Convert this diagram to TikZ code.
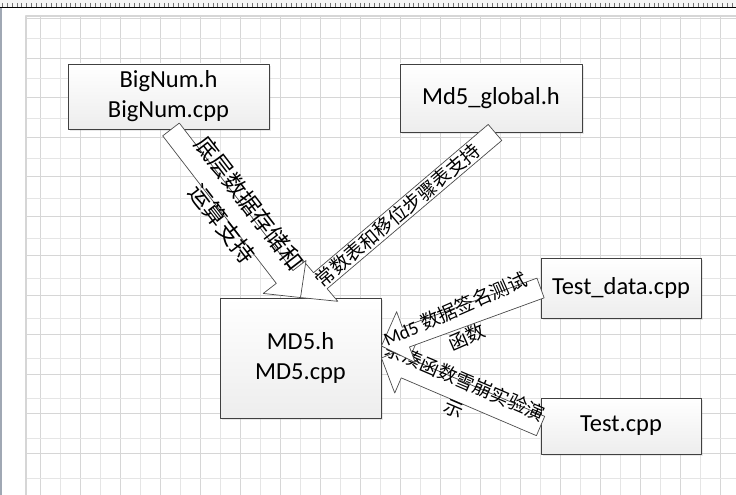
\documentclass[tikz,border=0pt]{standalone}
\usepackage{fontspec}
\setmainfont{Carlito}
\newfontfamily\cjk{Noto Sans CJK SC}
\usetikzlibrary{calc,shadows}
\definecolor{leftgray}{RGB}{160,168,180}
\def\shaftw{10.5pt} \def\headw{27pt} \def\headlen{26pt} % kich thuoc mui ten
% mui ten khoi: #1 ten, #2 duoi, #3 mui
\newcommand{\fatarrow}[3]{%
  \coordinate (#1t) at (#2);
  \coordinate (#1p) at (#3);
  \coordinate (#1h) at ($(#1p)!\headlen!(#1t)$);
  \filldraw[fatarr] ($(#1t)!\shaftw!90:(#1p)$) -- ($(#1h)!\shaftw!-90:(#1t)$)
    -- ($(#1h)!\headw!-90:(#1t)$) -- (#1p) -- ($(#1h)!\headw!90:(#1t)$)
    -- ($(#1h)!\shaftw!90:(#1t)$) -- ($(#1t)!\shaftw!-90:(#1p)$) -- cycle;}
% chu doc theo mui ten: #2 -> #3
\newcommand{\arrtext}[4][]{%
  \path let \p1=($(#3)-(#2)$), \n1={atan2(\y1,\x1)} in
    node[arrtxt, #1, rotate=\n1] at ($(#2)!0.5!(#3)$) {#4};}
\begin{document}
\begin{tikzpicture}[x=1pt, y=-1pt, line join=round,
    filebox/.style={draw=black!75, line width=0.9pt, top color=white, bottom color=black!7,
      drop shadow={opacity=0.18, shadow xshift=2pt, shadow yshift=-2pt},
      inner sep=0pt, align=center, font=\fontsize{24.5}{30}\selectfont},
    fatarr/.style={fill=white, draw=black!70, line width=0.7pt},
    arrtxt/.style={align=center, inner sep=0pt, font=\cjk\fontsize{19}{30}\selectfont},
    bigtxt/.style={font=\cjk\fontsize{23}{34}\selectfont},
    gridmaj/.style={black!16, line width=0.7pt},
    gridmin/.style={black!10, line width=0.7pt}]
  \useasboundingbox (0,0) rectangle (736,495);
  % thuoc do va khung trang
  \fill[white] (0,0) rectangle (736,495);
  \fill[black!4] (0,0) rectangle (736,7);
  \foreach \i in {0,...,149} \draw[black!55, line width=0.4pt] (2+\i*4.9,3) -- (2+\i*4.9,7);
  \draw[black, line width=1pt] (0,7.5) -- (736,7.5);
  \draw[leftgray, line width=1.5pt] (0.75,8) -- (0.75,495);
  \foreach \x in {60,100,...,720} \draw[gridmin] (\x,17) -- (\x,495);
  \foreach \x in {40,80,...,720} \draw[gridmaj] (\x,17) -- (\x,495);
  \foreach \y in {38,78,...,478} \draw[gridmin] (27,\y) -- (736,\y);
  \foreach \y in {18.5,58,...,478} \draw[gridmaj] (27,\y) -- (736,\y);
  \draw[black!16, line width=1.6pt] (26,495) -- (26,16) -- (736,16);
  % cac tep
  \node[filebox, minimum width=201pt, minimum height=65pt] (bignum) at (168.5,96.5) {BigNum.h\\BigNum.cpp};
  \node[filebox, minimum width=182pt, minimum height=68pt] (global) at (491,98) {Md5\_global.h};
  \node[filebox, minimum width=160pt, minimum height=60pt] (testdata) at (621,288) {Test\_data.cpp};
  \node[filebox, minimum width=160pt, minimum height=56pt] (test) at (621,426) {Test.cpp};
  \node[filebox, minimum width=161pt, minimum height=120pt] (md5) at (300.5,358) {MD5.h\\MD5.cpp};
  % mui ten
  \fatarrow{g}{$(global.south)+(4,0)$}{md5.north}
  \arrtext{md5.north}{$(global.south)+(4,0)$}{常数表和移位步骤表支持}
  \fatarrow{b}{$(bignum.south)+(2.5,0)$}{md5.north}
  \arrtext[bigtxt]{$(bignum.south)+(2.5,0)$}{md5.north}{底层数据存储和\\运算支持}
  \fatarrow{s}{test.west}{md5.east}
  \arrtext{$(md5.east)+(-1.5,3)$}{$(test.west)+(-1.5,3)$}{杂凑函数雪崩实验演\\示}
  \fatarrow{d}{testdata.west}{$(md5.east)+(0,-12)$}
  \arrtext{md5.east}{testdata.west}{{\rmfamily Md5} 数据签名测试\\函数}
\end{tikzpicture}
\end{document}
